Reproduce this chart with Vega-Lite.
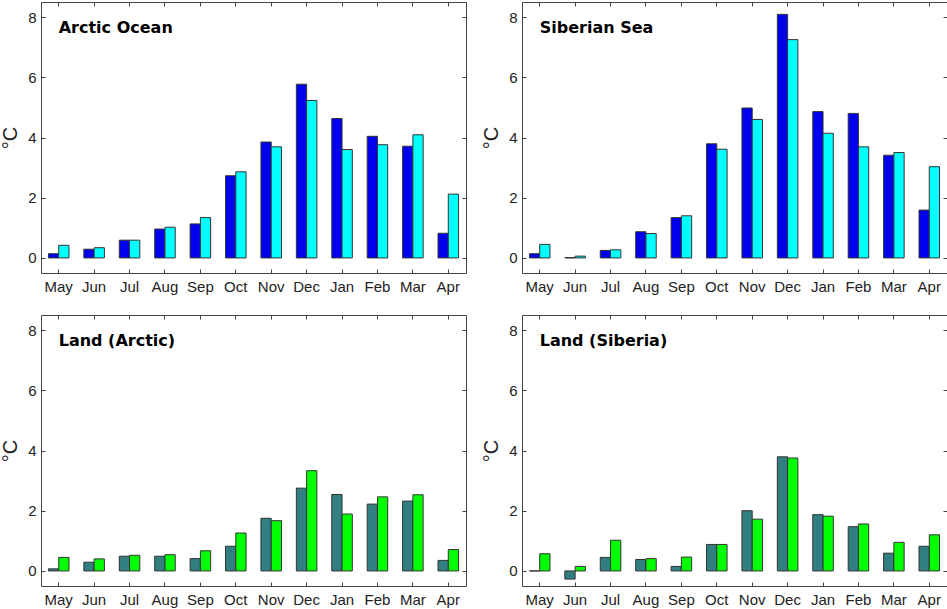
{
  "$schema": "https://vega.github.io/schema/vega-lite/v6.json",
  "padding": {"left": 0, "top": 1, "right": 0, "bottom": 0},
  "background": "white",
  "data": {
    "values": [
      {"panel": "Arctic Ocean", "month": "May", "series": "1", "value": 0.14},
      {"panel": "Arctic Ocean", "month": "May", "series": "2", "value": 0.42},
      {"panel": "Arctic Ocean", "month": "Jun", "series": "1", "value": 0.29},
      {"panel": "Arctic Ocean", "month": "Jun", "series": "2", "value": 0.34},
      {"panel": "Arctic Ocean", "month": "Jul", "series": "1", "value": 0.59},
      {"panel": "Arctic Ocean", "month": "Jul", "series": "2", "value": 0.59},
      {"panel": "Arctic Ocean", "month": "Aug", "series": "1", "value": 0.96},
      {"panel": "Arctic Ocean", "month": "Aug", "series": "2", "value": 1.02},
      {"panel": "Arctic Ocean", "month": "Sep", "series": "1", "value": 1.13},
      {"panel": "Arctic Ocean", "month": "Sep", "series": "2", "value": 1.34},
      {"panel": "Arctic Ocean", "month": "Oct", "series": "1", "value": 2.73},
      {"panel": "Arctic Ocean", "month": "Oct", "series": "2", "value": 2.86},
      {"panel": "Arctic Ocean", "month": "Nov", "series": "1", "value": 3.85},
      {"panel": "Arctic Ocean", "month": "Nov", "series": "2", "value": 3.69},
      {"panel": "Arctic Ocean", "month": "Dec", "series": "1", "value": 5.77},
      {"panel": "Arctic Ocean", "month": "Dec", "series": "2", "value": 5.23},
      {"panel": "Arctic Ocean", "month": "Jan", "series": "1", "value": 4.63},
      {"panel": "Arctic Ocean", "month": "Jan", "series": "2", "value": 3.6},
      {"panel": "Arctic Ocean", "month": "Feb", "series": "1", "value": 4.04},
      {"panel": "Arctic Ocean", "month": "Feb", "series": "2", "value": 3.76},
      {"panel": "Arctic Ocean", "month": "Mar", "series": "1", "value": 3.71},
      {"panel": "Arctic Ocean", "month": "Mar", "series": "2", "value": 4.09},
      {"panel": "Arctic Ocean", "month": "Apr", "series": "1", "value": 0.82},
      {"panel": "Arctic Ocean", "month": "Apr", "series": "2", "value": 2.12},

      {"panel": "Siberian Sea", "month": "May", "series": "1", "value": 0.14},
      {"panel": "Siberian Sea", "month": "May", "series": "2", "value": 0.45},
      {"panel": "Siberian Sea", "month": "Jun", "series": "1", "value": 0.01},
      {"panel": "Siberian Sea", "month": "Jun", "series": "2", "value": 0.06},
      {"panel": "Siberian Sea", "month": "Jul", "series": "1", "value": 0.25},
      {"panel": "Siberian Sea", "month": "Jul", "series": "2", "value": 0.27},
      {"panel": "Siberian Sea", "month": "Aug", "series": "1", "value": 0.87},
      {"panel": "Siberian Sea", "month": "Aug", "series": "2", "value": 0.81},
      {"panel": "Siberian Sea", "month": "Sep", "series": "1", "value": 1.34},
      {"panel": "Siberian Sea", "month": "Sep", "series": "2", "value": 1.4},
      {"panel": "Siberian Sea", "month": "Oct", "series": "1", "value": 3.79},
      {"panel": "Siberian Sea", "month": "Oct", "series": "2", "value": 3.61},
      {"panel": "Siberian Sea", "month": "Nov", "series": "1", "value": 4.98},
      {"panel": "Siberian Sea", "month": "Nov", "series": "2", "value": 4.6},
      {"panel": "Siberian Sea", "month": "Dec", "series": "1", "value": 8.09},
      {"panel": "Siberian Sea", "month": "Dec", "series": "2", "value": 7.25},
      {"panel": "Siberian Sea", "month": "Jan", "series": "1", "value": 4.86},
      {"panel": "Siberian Sea", "month": "Jan", "series": "2", "value": 4.14},
      {"panel": "Siberian Sea", "month": "Feb", "series": "1", "value": 4.8},
      {"panel": "Siberian Sea", "month": "Feb", "series": "2", "value": 3.69},
      {"panel": "Siberian Sea", "month": "Mar", "series": "1", "value": 3.41},
      {"panel": "Siberian Sea", "month": "Mar", "series": "2", "value": 3.5},
      {"panel": "Siberian Sea", "month": "Apr", "series": "1", "value": 1.59},
      {"panel": "Siberian Sea", "month": "Apr", "series": "2", "value": 3.03},

      {"panel": "Land (Arctic)", "month": "May", "series": "1", "value": 0.07},
      {"panel": "Land (Arctic)", "month": "May", "series": "2", "value": 0.45},
      {"panel": "Land (Arctic)", "month": "Jun", "series": "1", "value": 0.29},
      {"panel": "Land (Arctic)", "month": "Jun", "series": "2", "value": 0.4},
      {"panel": "Land (Arctic)", "month": "Jul", "series": "1", "value": 0.49},
      {"panel": "Land (Arctic)", "month": "Jul", "series": "2", "value": 0.52},
      {"panel": "Land (Arctic)", "month": "Aug", "series": "1", "value": 0.49},
      {"panel": "Land (Arctic)", "month": "Aug", "series": "2", "value": 0.54},
      {"panel": "Land (Arctic)", "month": "Sep", "series": "1", "value": 0.41},
      {"panel": "Land (Arctic)", "month": "Sep", "series": "2", "value": 0.67},
      {"panel": "Land (Arctic)", "month": "Oct", "series": "1", "value": 0.82},
      {"panel": "Land (Arctic)", "month": "Oct", "series": "2", "value": 1.26},
      {"panel": "Land (Arctic)", "month": "Nov", "series": "1", "value": 1.75},
      {"panel": "Land (Arctic)", "month": "Nov", "series": "2", "value": 1.67},
      {"panel": "Land (Arctic)", "month": "Dec", "series": "1", "value": 2.75},
      {"panel": "Land (Arctic)", "month": "Dec", "series": "2", "value": 3.33},
      {"panel": "Land (Arctic)", "month": "Jan", "series": "1", "value": 2.54},
      {"panel": "Land (Arctic)", "month": "Jan", "series": "2", "value": 1.89},
      {"panel": "Land (Arctic)", "month": "Feb", "series": "1", "value": 2.22},
      {"panel": "Land (Arctic)", "month": "Feb", "series": "2", "value": 2.46},
      {"panel": "Land (Arctic)", "month": "Mar", "series": "1", "value": 2.32},
      {"panel": "Land (Arctic)", "month": "Mar", "series": "2", "value": 2.53},
      {"panel": "Land (Arctic)", "month": "Apr", "series": "1", "value": 0.35},
      {"panel": "Land (Arctic)", "month": "Apr", "series": "2", "value": 0.71},

      {"panel": "Land (Siberia)", "month": "May", "series": "1", "value": 0.0},
      {"panel": "Land (Siberia)", "month": "May", "series": "2", "value": 0.57},
      {"panel": "Land (Siberia)", "month": "Jun", "series": "1", "value": -0.27},
      {"panel": "Land (Siberia)", "month": "Jun", "series": "2", "value": 0.15},
      {"panel": "Land (Siberia)", "month": "Jul", "series": "1", "value": 0.45},
      {"panel": "Land (Siberia)", "month": "Jul", "series": "2", "value": 1.02},
      {"panel": "Land (Siberia)", "month": "Aug", "series": "1", "value": 0.38},
      {"panel": "Land (Siberia)", "month": "Aug", "series": "2", "value": 0.41},
      {"panel": "Land (Siberia)", "month": "Sep", "series": "1", "value": 0.15},
      {"panel": "Land (Siberia)", "month": "Sep", "series": "2", "value": 0.46},
      {"panel": "Land (Siberia)", "month": "Oct", "series": "1", "value": 0.88},
      {"panel": "Land (Siberia)", "month": "Oct", "series": "2", "value": 0.88},
      {"panel": "Land (Siberia)", "month": "Nov", "series": "1", "value": 2.0},
      {"panel": "Land (Siberia)", "month": "Nov", "series": "2", "value": 1.72},
      {"panel": "Land (Siberia)", "month": "Dec", "series": "1", "value": 3.79},
      {"panel": "Land (Siberia)", "month": "Dec", "series": "2", "value": 3.75},
      {"panel": "Land (Siberia)", "month": "Jan", "series": "1", "value": 1.87},
      {"panel": "Land (Siberia)", "month": "Jan", "series": "2", "value": 1.82},
      {"panel": "Land (Siberia)", "month": "Feb", "series": "1", "value": 1.47},
      {"panel": "Land (Siberia)", "month": "Feb", "series": "2", "value": 1.56},
      {"panel": "Land (Siberia)", "month": "Mar", "series": "1", "value": 0.59},
      {"panel": "Land (Siberia)", "month": "Mar", "series": "2", "value": 0.95},
      {"panel": "Land (Siberia)", "month": "Apr", "series": "1", "value": 0.82},
      {"panel": "Land (Siberia)", "month": "Apr", "series": "2", "value": 1.2}
    ]
  },
  "columns": 2,
  "spacing": {"row": 42, "column": 56},
  "bounds": "flush",
  "concat": [
    {
      "width": 425,
      "height": 271,
      "transform": [{"filter": "datum.panel === 'Arctic Ocean'"}],
      "layer": [
        {
          "mark": {"type": "bar", "stroke": "#333333", "strokeWidth": 1},
          "encoding": {
            "x": {"field": "month", "type": "nominal", "sort": ["May", "Jun", "Jul", "Aug", "Sep", "Oct", "Nov", "Dec", "Jan", "Feb", "Mar", "Apr"], "scale": {"paddingInner": 0.42, "paddingOuter": 0.21}, "axis": {"orient": "bottom", "title": null, "labelAngle": 0, "labelPadding": 10}},
            "xOffset": {"field": "series", "type": "nominal", "scale": {"domain": ["1", "2"], "paddingInner": 0, "paddingOuter": 0}},
            "y": {"field": "value", "type": "quantitative", "stack": null, "scale": {"domain": [-0.5, 8.5], "nice": false, "zero": false}, "axis": {"orient": "left", "values": [0, 2, 4, 6, 8], "title": "°C", "labelPadding": 9}},
            "color": {"condition": {"test": "datum.series === '1'", "value": "#0000ee"}, "value": "#00ffff"}
          }
        },
        {
          "mark": {"type": "bar", "opacity": 0},
          "encoding": {
            "x": {"field": "month", "type": "nominal", "sort": ["May", "Jun", "Jul", "Aug", "Sep", "Oct", "Nov", "Dec", "Jan", "Feb", "Mar", "Apr"], "axis": {"orient": "top", "title": null, "labels": false}},
            "y": {"field": "value", "type": "quantitative", "stack": null, "axis": {"orient": "right", "values": [0, 2, 4, 6, 8], "title": null, "labels": false}}
          }
        },
        {
          "transform": [{"aggregate": [], "groupby": ["panel"]}],
          "mark": {"type": "text", "align": "left", "baseline": "alphabetic", "font": "DejaVu Sans", "fontSize": 16, "fontWeight": "bold", "color": "#000000"},
          "encoding": {
            "x": {"datum": "May", "axis": null},
            "y": {"datum": 7.47, "axis": null},
            "text": {"field": "panel"}
          }
        }
      ],
      "resolve": {"axis": {"x": "independent", "y": "independent"}}
    },
    {
      "width": 425,
      "height": 271,
      "transform": [{"filter": "datum.panel === 'Siberian Sea'"}],
      "layer": [
        {
          "mark": {"type": "bar", "stroke": "#333333", "strokeWidth": 1},
          "encoding": {
            "x": {"field": "month", "type": "nominal", "sort": ["May", "Jun", "Jul", "Aug", "Sep", "Oct", "Nov", "Dec", "Jan", "Feb", "Mar", "Apr"], "scale": {"paddingInner": 0.42, "paddingOuter": 0.21}, "axis": {"orient": "bottom", "title": null, "labelAngle": 0, "labelPadding": 10}},
            "xOffset": {"field": "series", "type": "nominal", "scale": {"domain": ["1", "2"], "paddingInner": 0, "paddingOuter": 0}},
            "y": {"field": "value", "type": "quantitative", "stack": null, "scale": {"domain": [-0.5, 8.5], "nice": false, "zero": false}, "axis": {"orient": "left", "values": [0, 2, 4, 6, 8], "title": "°C", "labelPadding": 9}},
            "color": {"condition": {"test": "datum.series === '1'", "value": "#0000ee"}, "value": "#00ffff"}
          }
        },
        {
          "mark": {"type": "bar", "opacity": 0},
          "encoding": {
            "x": {"field": "month", "type": "nominal", "sort": ["May", "Jun", "Jul", "Aug", "Sep", "Oct", "Nov", "Dec", "Jan", "Feb", "Mar", "Apr"], "axis": {"orient": "top", "title": null, "labels": false}},
            "y": {"field": "value", "type": "quantitative", "stack": null, "axis": {"orient": "right", "values": [0, 2, 4, 6, 8], "title": null, "labels": false}}
          }
        },
        {
          "transform": [{"aggregate": [], "groupby": ["panel"]}],
          "mark": {"type": "text", "align": "left", "baseline": "alphabetic", "font": "DejaVu Sans", "fontSize": 16, "fontWeight": "bold", "color": "#000000"},
          "encoding": {
            "x": {"datum": "May", "axis": null},
            "y": {"datum": 7.47, "axis": null},
            "text": {"field": "panel"}
          }
        }
      ],
      "resolve": {"axis": {"x": "independent", "y": "independent"}}
    },
    {
      "width": 425,
      "height": 271,
      "transform": [{"filter": "datum.panel === 'Land (Arctic)'"}],
      "layer": [
        {
          "mark": {"type": "bar", "stroke": "#333333", "strokeWidth": 1},
          "encoding": {
            "x": {"field": "month", "type": "nominal", "sort": ["May", "Jun", "Jul", "Aug", "Sep", "Oct", "Nov", "Dec", "Jan", "Feb", "Mar", "Apr"], "scale": {"paddingInner": 0.42, "paddingOuter": 0.21}, "axis": {"orient": "bottom", "title": null, "labelAngle": 0, "labelPadding": 10}},
            "xOffset": {"field": "series", "type": "nominal", "scale": {"domain": ["1", "2"], "paddingInner": 0, "paddingOuter": 0}},
            "y": {"field": "value", "type": "quantitative", "stack": null, "scale": {"domain": [-0.5, 8.5], "nice": false, "zero": false}, "axis": {"orient": "left", "values": [0, 2, 4, 6, 8], "title": "°C", "labelPadding": 9}},
            "color": {"condition": {"test": "datum.series === '1'", "value": "#317f80"}, "value": "#00ff00"}
          }
        },
        {
          "mark": {"type": "bar", "opacity": 0},
          "encoding": {
            "x": {"field": "month", "type": "nominal", "sort": ["May", "Jun", "Jul", "Aug", "Sep", "Oct", "Nov", "Dec", "Jan", "Feb", "Mar", "Apr"], "axis": {"orient": "top", "title": null, "labels": false}},
            "y": {"field": "value", "type": "quantitative", "stack": null, "axis": {"orient": "right", "values": [0, 2, 4, 6, 8], "title": null, "labels": false}}
          }
        },
        {
          "transform": [{"aggregate": [], "groupby": ["panel"]}],
          "mark": {"type": "text", "align": "left", "baseline": "alphabetic", "font": "DejaVu Sans", "fontSize": 16, "fontWeight": "bold", "color": "#000000"},
          "encoding": {
            "x": {"datum": "May", "axis": null},
            "y": {"datum": 7.47, "axis": null},
            "text": {"field": "panel"}
          }
        }
      ],
      "resolve": {"axis": {"x": "independent", "y": "independent"}}
    },
    {
      "width": 425,
      "height": 271,
      "transform": [{"filter": "datum.panel === 'Land (Siberia)'"}],
      "layer": [
        {
          "mark": {"type": "bar", "stroke": "#333333", "strokeWidth": 1},
          "encoding": {
            "x": {"field": "month", "type": "nominal", "sort": ["May", "Jun", "Jul", "Aug", "Sep", "Oct", "Nov", "Dec", "Jan", "Feb", "Mar", "Apr"], "scale": {"paddingInner": 0.42, "paddingOuter": 0.21}, "axis": {"orient": "bottom", "title": null, "labelAngle": 0, "labelPadding": 10}},
            "xOffset": {"field": "series", "type": "nominal", "scale": {"domain": ["1", "2"], "paddingInner": 0, "paddingOuter": 0}},
            "y": {"field": "value", "type": "quantitative", "stack": null, "scale": {"domain": [-0.5, 8.5], "nice": false, "zero": false}, "axis": {"orient": "left", "values": [0, 2, 4, 6, 8], "title": "°C", "labelPadding": 9}},
            "color": {"condition": {"test": "datum.series === '1'", "value": "#317f80"}, "value": "#00ff00"}
          }
        },
        {
          "mark": {"type": "bar", "opacity": 0},
          "encoding": {
            "x": {"field": "month", "type": "nominal", "sort": ["May", "Jun", "Jul", "Aug", "Sep", "Oct", "Nov", "Dec", "Jan", "Feb", "Mar", "Apr"], "axis": {"orient": "top", "title": null, "labels": false}},
            "y": {"field": "value", "type": "quantitative", "stack": null, "axis": {"orient": "right", "values": [0, 2, 4, 6, 8], "title": null, "labels": false}}
          }
        },
        {
          "transform": [{"aggregate": [], "groupby": ["panel"]}],
          "mark": {"type": "text", "align": "left", "baseline": "alphabetic", "font": "DejaVu Sans", "fontSize": 16, "fontWeight": "bold", "color": "#000000"},
          "encoding": {
            "x": {"datum": "May", "axis": null},
            "y": {"datum": 7.47, "axis": null},
            "text": {"field": "panel"}
          }
        }
      ],
      "resolve": {"axis": {"x": "independent", "y": "independent"}}
    }
  ],
  "config": {
    "view": {"stroke": "#444444", "strokeWidth": 1},
    "axis": {
      "domain": false,
      "grid": false,
      "ticks": true,
      "tickSize": -4,
      "tickColor": "#444444",
      "labelFont": "Liberation Sans",
      "labelFontSize": 15,
      "labelColor": "#222222",
      "titleFont": "Liberation Sans",
      "titleFontSize": 20,
      "titleFontWeight": "normal",
      "titleColor": "#222222",
      "titlePadding": 7
    }
  }
}
